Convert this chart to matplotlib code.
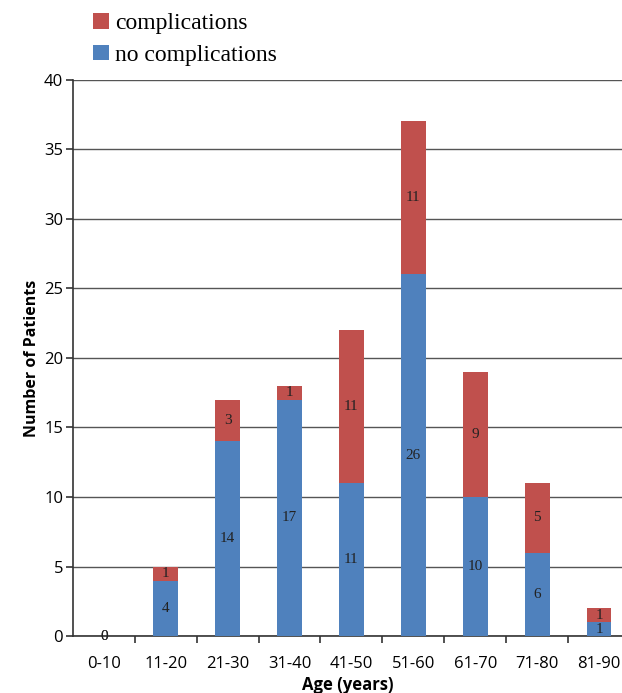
import matplotlib.pyplot as plt
import numpy as np

# data
groups = ['0-10', '11-20', '21-30', '31-40', '41-50', '51-60', '61-70', '71-80', '81-90']
no_comp = [0, 4, 14, 17, 11, 26, 10, 6, 1]
comp = [0, 1, 3, 1, 11, 11, 9, 5, 1]

blue = '#4F81BD'
red = '#C0504D'

fig = plt.figure(figsize=(6.22, 6.93), dpi=100)
ax = fig.add_axes([0.117, 0.082, 0.883, 0.803])

x = np.arange(len(groups))
w = 0.4
ax.bar(x, no_comp, w, color=blue, zorder=3, label='no complications')
ax.bar(x, comp, w, bottom=no_comp, color=red, zorder=3, label='complications')

# value labels in the middle of each segment
for i in range(len(groups)):
    ax.text(x[i], no_comp[i] / 2, str(no_comp[i]), ha='center', va='center',
            family='Liberation Serif', fontsize=11, color='#222222', zorder=4)
    ax.text(x[i], no_comp[i] + comp[i] / 2, str(comp[i]), ha='center', va='center',
            family='Liberation Serif', fontsize=11, color='#222222', zorder=4)

ax.set_ylim(0, 40)
ax.set_xlim(-0.5, 8.37)
ax.set_yticks(range(0, 41, 5))
ax.set_xticks(x)
ax.set_xticklabels(groups, fontsize=12, family='Open Sans')
ax.set_xticks(x[:-1] + 0.5, minor=True)
ax.tick_params(axis='x', which='major', length=0, pad=14)
ax.tick_params(axis='x', which='minor', length=5, width=1.2, color='#333333')
ax.tick_params(axis='y', labelsize=12, length=5, width=1.2, color='#333333', pad=2)
for lab in ax.get_yticklabels():
    lab.set_family('Open Sans')

ax.yaxis.grid(True, color='#555555', linewidth=1, zorder=0)
for s in ['top', 'right']:
    ax.spines[s].set_visible(False)
ax.spines['left'].set_color('#333333')
ax.spines['bottom'].set_color('#333333')
ax.spines['left'].set_linewidth(1.2)
ax.spines['bottom'].set_linewidth(1.2)

ax.set_xlabel('Age (years)', fontsize=12, fontweight='bold', family='Open Sans', labelpad=3)
ax.set_ylabel('Number of Patients', fontsize=11.5, fontweight='bold', family='Open Sans', labelpad=3)

handles, labels = ax.get_legend_handles_labels()
fig.legend(handles[::-1], labels[::-1], loc='upper left', bbox_to_anchor=(0.135, 0.995),
           frameon=False, prop={'family': 'Liberation Serif', 'size': 17},
           handlelength=0.65, handleheight=0.65, handletextpad=0.25, labelspacing=0.45,
           borderaxespad=0)

fig.savefig('out.png', dpi=100)
